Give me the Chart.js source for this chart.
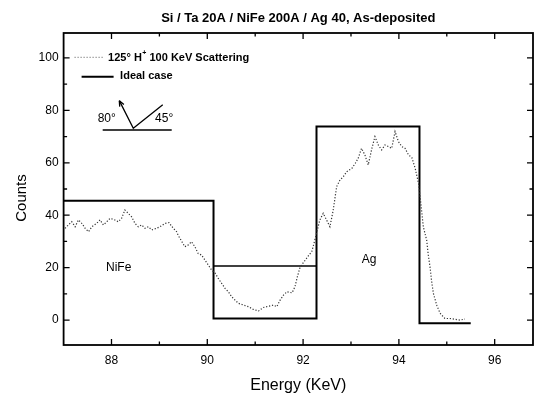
<!DOCTYPE html>
<html><head><meta charset="utf-8">
<script src="https://cdn.jsdelivr.net/npm/chart.js@4/dist/chart.umd.min.js"></script>
<style>html,body{margin:0;padding:0;background:#fff}#wrap{width:534px;height:394px}</style>
</head><body><div id="wrap"><canvas id="c" width="534" height="394"></canvas></div>
<script>
const energy = [87.03,87.10,87.17,87.24,87.31,87.38,87.45,87.52,87.59,87.69,
87.76,87.83,87.90,87.97,88.07,88.14,88.21,88.28,88.35,88.42,
88.49,88.56,88.63,88.70,88.77,88.84,88.94,89.01,89.12,89.20,
89.29,89.36,89.39,89.47,89.53,89.60,89.67,89.74,89.81,89.88,
89.95,90.02,90.09,90.16,90.23,90.30,90.37,90.44,90.51,90.58,
90.65,90.76,90.86,90.96,91.07,91.17,91.28,91.38,91.45,91.52,
91.59,91.66,91.77,91.83,91.88,91.94,92.01,92.11,92.18,92.21,
92.28,92.35,92.42,92.49,92.56,92.63,92.70,92.77,92.84,92.91,
93.02,93.09,93.15,93.22,93.29,93.36,93.43,93.50,93.57,93.64,
93.71,93.78,93.85,93.92,93.99,94.06,94.13,94.20,94.27,94.34,
94.41,94.45,94.48,94.51,94.58,94.61,94.65,94.68,94.72,94.79,
94.86,94.96,95.07,95.17,95.28,95.38];
const counts = [35,36.3,37.5,35.6,38.2,36.9,35,33.7,35.6,36.9,
38.2,36.3,37.5,38.8,38.2,37.5,38.8,42,40.7,39.4,
36.9,35.6,36.3,35,35.6,34.4,35,35.6,36.9,37.2,
35,33.7,32.4,29.9,28,28.6,29.9,28,25.4,24.8,
22.9,21,19.1,18,15.9,14,12.1,10.8,8.9,7.6,
6.4,5.7,5.1,4.1,3.5,4.8,5.3,5.7,5.1,7.6,
9.5,10.8,10.4,12.7,16.5,20.3,22,24.5,26.1,28,
33.1,38.2,40.7,38.2,35.6,42,50.9,53.4,54.7,56.6,
57.9,59.8,61.7,65.5,63,59.2,65,70,66.8,64.9,
66.8,66.2,65.5,71.9,68.1,66.2,65.5,63,62,57.9,
52.2,45.8,40.7,35.6,30.5,25.4,20.3,15.3,10.2,5.7,
2.6,0.6,0.6,0.3,0,0.4];
const idealEnergy = [87, 90.13, 90.13, 92.28, 92.28, 94.43, 94.43, 95.5];
const idealCounts = [45.5, 45.5, 0.6, 0.6, 73.8, 73.8, -1.2, -1.2];
const boxEnergy = [90.13, 92.28];
const boxCounts = [20.6, 20.6];
const xTicks = [88, 90, 92, 94, 96];
const xMinor = [89, 91, 93, 95];
const yTicks = [0, 20, 40, 60, 80, 100];
const yMinor = [10, 30, 50, 70, 90];
const regionLabels = [{text: 'NiFe', x: 88.15, y: 20.1}, {text: 'Ag', x: 93.38, y: 22.9}];

const FONT = 'Arial, "Liberation Sans", sans-serif';
const pts = (xs, ys) => xs.map((v, i) => ({x: v, y: ys[i]}));

const decor = {
  id: 'decor',
  afterDatasetsDraw(chart) {
    const {ctx, chartArea: a, scales: {x, y}} = chart;
    ctx.save();
    ctx.strokeStyle = '#000';
    ctx.fillStyle = '#000';
    ctx.lineWidth = 1.3;
    const tickX = (v, len) => {
      const p = x.getPixelForValue(v);
      ctx.beginPath();
      ctx.moveTo(p, a.bottom); ctx.lineTo(p, a.bottom - len);
      ctx.moveTo(p, a.top); ctx.lineTo(p, a.top + len);
      ctx.stroke();
    };
    const tickY = (v, len) => {
      const p = y.getPixelForValue(v);
      ctx.beginPath();
      ctx.moveTo(a.left, p); ctx.lineTo(a.left + len, p);
      ctx.moveTo(a.right, p); ctx.lineTo(a.right - len, p);
      ctx.stroke();
    };
    xTicks.forEach(v => tickX(v, 6));
    xMinor.forEach(v => tickX(v, 3.5));
    yTicks.forEach(v => tickY(v, 6));
    yMinor.forEach(v => tickY(v, 3.5));
    ctx.lineWidth = 1.8;
    ctx.strokeRect(a.left, a.top, a.width, a.height);

    // legend
    ctx.textBaseline = 'middle';
    ctx.textAlign = 'left';
    ctx.save();
    ctx.setLineDash([1, 2]);
    ctx.lineWidth = 1;
    ctx.strokeStyle = '#555';
    ctx.beginPath();
    ctx.moveTo(a.left + 11, a.top + 24.3); ctx.lineTo(a.left + 40, a.top + 24.3);
    ctx.stroke();
    ctx.restore();
    ctx.font = 'bold 11px ' + FONT;
    let tx = a.left + 44.5, ty = a.top + 24.5;
    ctx.fillText('125\u00B0 H', tx, ty);
    tx += ctx.measureText('125\u00B0 H').width;
    ctx.font = 'bold 7px ' + FONT;
    ctx.fillText('+', tx + 0.5, ty - 4);
    tx += ctx.measureText('+').width + 0.5;
    ctx.font = 'bold 11px ' + FONT;
    ctx.fillText(' 100 KeV Scattering', tx, ty);
    ctx.lineWidth = 2;
    ctx.beginPath();
    ctx.moveTo(a.left + 18, a.top + 43.7); ctx.lineTo(a.left + 50, a.top + 43.7);
    ctx.stroke();
    ctx.fillText('Ideal case', a.left + 56.5, a.top + 42.5);

    // inset geometry sketch
    const X = v => x.getPixelForValue(v), Y = v => y.getPixelForValue(v);
    ctx.lineWidth = 1.3;
    const vx = X(88.455), vy = Y(73.2);
    const tx1 = X(88.163), ty1 = Y(83.7);
    const ex = X(89.07), ey = Y(82.1);
    ctx.beginPath();
    ctx.moveTo(X(87.816), Y(72.5)); ctx.lineTo(X(89.257), Y(72.5));
    ctx.moveTo(tx1, ty1); ctx.lineTo(vx, vy); ctx.lineTo(ex, ey);
    ctx.stroke();
    const ang = Math.atan2(ty1 - vy, tx1 - vx);
    ctx.beginPath();
    ctx.moveTo(tx1, ty1);
    ctx.lineTo(tx1 - 6 * Math.cos(ang - 0.4), ty1 - 6 * Math.sin(ang - 0.4));
    ctx.moveTo(tx1, ty1);
    ctx.lineTo(tx1 - 6 * Math.cos(ang + 0.4), ty1 - 6 * Math.sin(ang + 0.4));
    ctx.stroke();
    ctx.font = '12px ' + FONT;
    ctx.textAlign = 'center';
    ctx.fillText('80\u00B0', X(87.90), Y(76.7));
    ctx.fillText('45\u00B0', X(89.10), Y(76.7));

    ctx.font = '12px ' + FONT;
    regionLabels.forEach(l => ctx.fillText(l.text, X(l.x), Y(l.y)));

    ctx.save();
    ctx.translate(21.7, 198);
    ctx.rotate(-Math.PI / 2);
    ctx.font = '15px ' + FONT;
    ctx.textAlign = 'center';
    ctx.fillText('Counts', 0, 0);
    ctx.restore();
    ctx.restore();
  }
};

new Chart(document.getElementById('c'), {
  type: 'line',
  data: {
    datasets: [
      {label: '125\u00B0 H+ 100 KeV Scattering', data: pts(energy, counts), borderColor: '#333', borderWidth: 1.2, borderDash: [1.2, 1.8], pointRadius: 0, tension: 0, fill: false},
      {label: 'Ideal case', data: pts(idealEnergy, idealCounts), borderColor: '#000', borderWidth: 2, pointRadius: 0, tension: 0, fill: false},
      {label: 'Ideal case (top)', data: pts(boxEnergy, boxCounts), borderColor: '#000', borderWidth: 1.5, pointRadius: 0, tension: 0, fill: false}
    ]
  },
  options: {
    responsive: false,
    devicePixelRatio: 1,
    animation: false,
    layout: {padding: {left: 0, right: 1, top: 0, bottom: 0}},
    plugins: {
      legend: {display: false},
      tooltip: {enabled: false},
      title: {
        display: true,
        text: 'Si / Ta 20A / NiFe 200A / Ag 40, As-deposited',
        fullSize: false,
        color: '#000',
        font: {family: FONT, size: 13, weight: 'bold', lineHeight: 1.2},
        padding: {top: 10.5, bottom: 6.9}
      }
    },
    scales: {
      x: {
        type: 'linear', min: 87, max: 96.8,
        afterBuildTicks: s => { s.ticks = xTicks.map(v => ({value: v})); },
        afterFit: s => { s.height = 49; },
        grid: {display: false, drawTicks: false},
        border: {display: false},
        ticks: {color: '#000', font: {family: FONT, size: 12}, padding: 8.5, maxRotation: 0, autoSkip: false},
        title: {display: true, text: 'Energy (KeV)', color: '#000', font: {family: FONT, size: 16, lineHeight: 1}, padding: {top: 0, bottom: 0}}
      },
      y: {
        type: 'linear', min: -9.5, max: 109.5,
        afterBuildTicks: s => { s.ticks = yTicks.map(v => ({value: v})); },
        afterFit: s => { s.width = 63.6; },
        grid: {display: false, drawTicks: false},
        border: {display: false},
        ticks: {color: '#000', font: {family: FONT, size: 12}, padding: 5}
      }
    }
  },
  plugins: [decor]
});
</script>
</body></html>
